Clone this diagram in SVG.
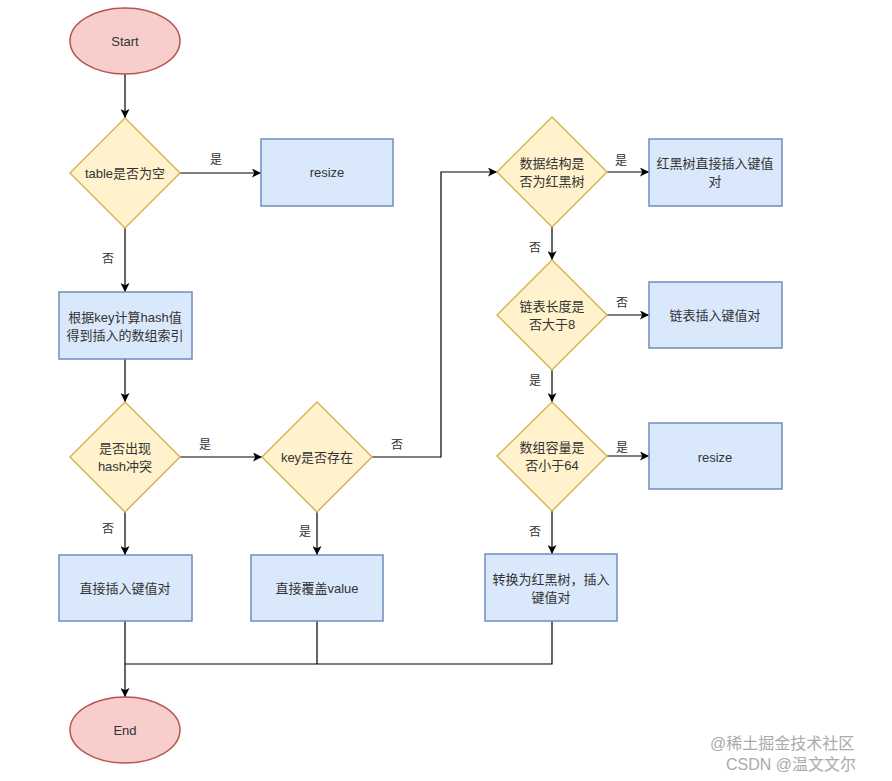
<svg xmlns="http://www.w3.org/2000/svg" width="892" height="781" viewBox="0 0 892 781">
<style>
text{font-family:"Liberation Sans","Noto Sans CJK SC",sans-serif;font-size:13px;fill:#333;text-anchor:middle;dominant-baseline:central}
.term{fill:#f8cecc;stroke:#b85450;stroke-width:1.5}
.dec{fill:#fff2cc;stroke:#d6b656;stroke-width:1.5}
.proc{fill:#dae8fc;stroke:#6c8ebf;stroke-width:1.5}
.edge{fill:none;stroke:#000;stroke-width:1.2}
.lbl{font-size:12px}
.wm{font-size:16px;fill:#aaa;text-anchor:start;dominant-baseline:auto}
</style>
<defs>
<marker id="arr" viewBox="0 0 10 10" refX="10" refY="5" markerWidth="9" markerHeight="9" markerUnits="userSpaceOnUse" orient="auto">
<path d="M0,0 L10,5 L0,10 L2.5,5 Z" fill="#000"/>
</marker>
</defs>
<rect width="892" height="781" fill="#fff"/>
<g id="connectors">
<path class="edge" d="M125,74 L125,118" marker-end="url(#arr)"/>
<path class="edge" d="M180,173 L261,173" marker-end="url(#arr)"/>
<path class="edge" d="M125,228 L125,292" marker-end="url(#arr)"/>
<path class="edge" d="M125,359 L125,402" marker-end="url(#arr)"/>
<path class="edge" d="M180,457 L262,457" marker-end="url(#arr)"/>
<path class="edge" d="M372,457 L441,457 L441,172 L497,172" marker-end="url(#arr)"/>
<path class="edge" d="M607,172 L649,172" marker-end="url(#arr)"/>
<path class="edge" d="M552,227 L552,260" marker-end="url(#arr)"/>
<path class="edge" d="M607,315 L649,315" marker-end="url(#arr)"/>
<path class="edge" d="M552,370 L552,402" marker-end="url(#arr)"/>
<path class="edge" d="M607,456 L649,456" marker-end="url(#arr)"/>
<path class="edge" d="M552,511 L552,554" marker-end="url(#arr)"/>
<path class="edge" d="M125,512 L125,555" marker-end="url(#arr)"/>
<path class="edge" d="M317,512 L317,555" marker-end="url(#arr)"/>
<path class="edge" d="M125,621 L125,697" marker-end="url(#arr)"/>
<path class="edge" d="M317,621 L317,664 L125,664"/>
<path class="edge" d="M552,621 L552,664 L317,664"/>
<text class="lbl" x="216" y="160">是</text>
<text class="lbl" x="108" y="259">否</text>
<text class="lbl" x="205" y="445">是</text>
<text class="lbl" x="397" y="445">否</text>
<text class="lbl" x="621" y="161">是</text>
<text class="lbl" x="535" y="248">否</text>
<text class="lbl" x="622" y="303">否</text>
<text class="lbl" x="535" y="381">是</text>
<text class="lbl" x="622" y="448">是</text>
<text class="lbl" x="535" y="532">否</text>
<text class="lbl" x="108" y="529">否</text>
<text class="lbl" x="305" y="532">是</text>
</g>
<g id="start"><ellipse class="term" cx="125" cy="41" rx="55" ry="33"/><text x="125" y="41">Start</text></g>
<g id="d-table-empty"><polygon class="dec" points="125,118 180,173 125,228 70,173"/><text x="125" y="173">table是否为空</text></g>
<g id="resize1"><rect class="proc" x="261" y="139" width="132" height="67"/><text x="327" y="172">resize</text></g>
<g id="calc-hash"><rect class="proc" x="59" y="292" width="133" height="67"/><text x="125" y="317">根据key计算hash值</text><text x="125" y="335">得到插入的数组索引</text></g>
<g id="d-hash-conflict"><polygon class="dec" points="125,402 180,457 125,512 70,457"/><text x="125" y="448">是否出现</text><text x="125" y="466">hash冲突</text></g>
<g id="d-key-exists"><polygon class="dec" points="317,402 372,457 317,512 262,457"/><text x="317" y="457">key是否存在</text></g>
<g id="d-rbtree"><polygon class="dec" points="552,117 607,172 552,227 497,172"/><text x="552" y="163">数据结构是</text><text x="552" y="181">否为红黑树</text></g>
<g id="rb-insert"><rect class="proc" x="649" y="139" width="133" height="67"/><text x="715" y="163">红黑树直接插入键值</text><text x="715" y="181">对</text></g>
<g id="d-len8"><polygon class="dec" points="552,260 607,315 552,370 497,315"/><text x="552" y="306">链表长度是</text><text x="552" y="324">否大于8</text></g>
<g id="list-insert"><rect class="proc" x="649" y="282" width="133" height="66"/><text x="715" y="315">链表插入键值对</text></g>
<g id="d-cap64"><polygon class="dec" points="552,402 607,456 552,511 497,456"/><text x="552" y="447">数组容量是</text><text x="552" y="465">否小于64</text></g>
<g id="resize2"><rect class="proc" x="649" y="423" width="133" height="66"/><text x="715" y="457">resize</text></g>
<g id="insert-direct"><rect class="proc" x="59" y="555" width="133" height="66"/><text x="125" y="588">直接插入键值对</text></g>
<g id="overwrite"><rect class="proc" x="251" y="555" width="132" height="66"/><text x="317" y="588">直接覆盖value</text></g>
<g id="to-rbtree"><rect class="proc" x="485" y="554" width="132" height="67"/><text x="551" y="579">转换为红黑树，插入</text><text x="551" y="597">键值对</text></g>
<g id="end"><ellipse class="term" cx="125" cy="730" rx="55" ry="33"/><text x="125" y="730">End</text></g>
<g id="watermark"><text class="wm" x="710" y="749">@稀土掘金技术社区</text><text class="wm" x="726" y="770">CSDN @温文文尔</text></g>
</svg>
